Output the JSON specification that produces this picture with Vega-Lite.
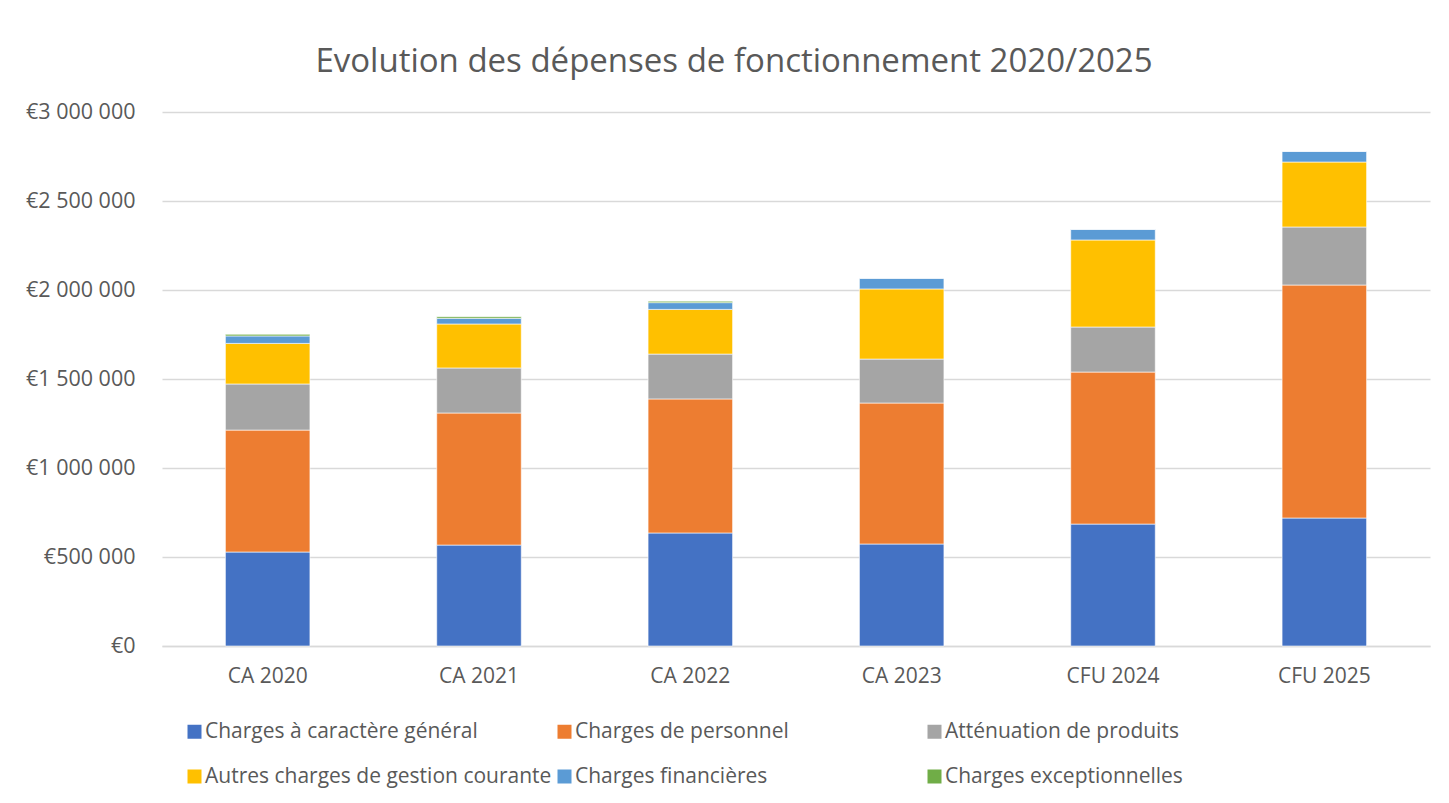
{
  "$schema": "https://vega.github.io/schema/vega-lite/v6.json",
  "width": 1268,
  "height": 534,
  "autosize": "none",
  "padding": {"left": 162, "top": 112, "right": 19, "bottom": 157},
  "background": "white",
  "title": {
    "text": "Evolution des dépenses de fonctionnement 2020/2025",
    "font": "Open Sans",
    "fontSize": 33,
    "fontWeight": "normal",
    "color": "#595959",
    "anchor": "middle",
    "dx": -62,
    "offset": 22
  },
  "data": {
    "values": [
      {"annee": "CA 2020", "poste": "Charges à caractère général", "rang": 1, "montant": 528000},
      {"annee": "CA 2020", "poste": "Charges de personnel", "rang": 2, "montant": 685000},
      {"annee": "CA 2020", "poste": "Atténuation de produits", "rang": 3, "montant": 259000},
      {"annee": "CA 2020", "poste": "Autres charges de gestion courante", "rang": 4, "montant": 228000},
      {"annee": "CA 2020", "poste": "Charges financières", "rang": 5, "montant": 42000},
      {"annee": "CA 2020", "poste": "Charges exceptionnelles", "rang": 6, "montant": 9000},
      {"annee": "CA 2021", "poste": "Charges à caractère général", "rang": 1, "montant": 567000},
      {"annee": "CA 2021", "poste": "Charges de personnel", "rang": 2, "montant": 742000},
      {"annee": "CA 2021", "poste": "Atténuation de produits", "rang": 3, "montant": 253000},
      {"annee": "CA 2021", "poste": "Autres charges de gestion courante", "rang": 4, "montant": 247000},
      {"annee": "CA 2021", "poste": "Charges financières", "rang": 5, "montant": 32000},
      {"annee": "CA 2021", "poste": "Charges exceptionnelles", "rang": 6, "montant": 9000},
      {"annee": "CA 2022", "poste": "Charges à caractère général", "rang": 1, "montant": 635000},
      {"annee": "CA 2022", "poste": "Charges de personnel", "rang": 2, "montant": 753000},
      {"annee": "CA 2022", "poste": "Atténuation de produits", "rang": 3, "montant": 252000},
      {"annee": "CA 2022", "poste": "Autres charges de gestion courante", "rang": 4, "montant": 251000},
      {"annee": "CA 2022", "poste": "Charges financières", "rang": 5, "montant": 38000},
      {"annee": "CA 2022", "poste": "Charges exceptionnelles", "rang": 6, "montant": 8000},
      {"annee": "CA 2023", "poste": "Charges à caractère général", "rang": 1, "montant": 573000},
      {"annee": "CA 2023", "poste": "Charges de personnel", "rang": 2, "montant": 792000},
      {"annee": "CA 2023", "poste": "Atténuation de produits", "rang": 3, "montant": 247000},
      {"annee": "CA 2023", "poste": "Autres charges de gestion courante", "rang": 4, "montant": 394000},
      {"annee": "CA 2023", "poste": "Charges financières", "rang": 5, "montant": 60000},
      {"annee": "CA 2023", "poste": "Charges exceptionnelles", "rang": 6, "montant": 0},
      {"annee": "CFU 2024", "poste": "Charges à caractère général", "rang": 1, "montant": 685000},
      {"annee": "CFU 2024", "poste": "Charges de personnel", "rang": 2, "montant": 854000},
      {"annee": "CFU 2024", "poste": "Atténuation de produits", "rang": 3, "montant": 253000},
      {"annee": "CFU 2024", "poste": "Autres charges de gestion courante", "rang": 4, "montant": 489000},
      {"annee": "CFU 2024", "poste": "Charges financières", "rang": 5, "montant": 60000},
      {"annee": "CFU 2024", "poste": "Charges exceptionnelles", "rang": 6, "montant": 0},
      {"annee": "CFU 2025", "poste": "Charges à caractère général", "rang": 1, "montant": 719000},
      {"annee": "CFU 2025", "poste": "Charges de personnel", "rang": 2, "montant": 1309000},
      {"annee": "CFU 2025", "poste": "Atténuation de produits", "rang": 3, "montant": 326000},
      {"annee": "CFU 2025", "poste": "Autres charges de gestion courante", "rang": 4, "montant": 365000},
      {"annee": "CFU 2025", "poste": "Charges financières", "rang": 5, "montant": 60000},
      {"annee": "CFU 2025", "poste": "Charges exceptionnelles", "rang": 6, "montant": 0}
    ]
  },
  "mark": {"type": "bar", "stroke": "white", "strokeWidth": 0.6},
  "encoding": {
    "x": {
      "field": "annee",
      "type": "nominal",
      "sort": null,
      "scale": {"paddingInner": 0.6, "paddingOuter": 0.3},
      "axis": {
        "title": null,
        "labelAngle": 0,
        "labelFont": "Open Sans",
        "labelFontSize": 21,
        "labelColor": "#595959",
        "labelPadding": 19,
        "ticks": false,
        "domainColor": "#d9d9d9",
        "domainWidth": 1.5
      }
    },
    "y": {
      "field": "montant",
      "type": "quantitative",
      "stack": "zero",
      "scale": {"domain": [0, 3000000], "nice": false},
      "axis": {
        "title": null,
        "values": [0, 500000, 1000000, 1500000, 2000000, 2500000, 3000000],
        "labelExpr": "'€' + replace(format(datum.value, ',.0f'), regexp(',', 'g'), ' ')",
        "labelFont": "Open Sans",
        "labelFontSize": 21.5,
        "labelColor": "#595959",
        "labelPadding": 27,
        "ticks": false,
        "domain": false,
        "gridColor": "#d9d9d9",
        "gridWidth": 1.5
      }
    },
    "order": {"field": "rang", "sort": "ascending"},
    "color": {
      "field": "poste",
      "type": "nominal",
      "scale": {
        "domain": ["Charges à caractère général", "Autres charges de gestion courante", "Charges de personnel", "Charges financières", "Atténuation de produits", "Charges exceptionnelles"],
        "range": ["#4472C4", "#FFC000", "#ED7D31", "#5B9BD5", "#A5A5A5", "#70AD47"]
      },
      "legend": {
        "title": null,
        "orient": "none",
        "legendX": 22,
        "legendY": 609,
        "columns": 3,
        "gridAlign": "all",
        "columnPadding": 2,
        "rowPadding": 23,
        "symbolType": "square",
        "symbolSize": 196,
        "symbolStrokeWidth": 0,
        "symbolOffset": 0,
        "labelOffset": 0,
        "labelFont": "Open Sans",
        "labelFontSize": 21,
        "labelColor": "#595959",
        "labelLimit": 500
      }
    }
  },
  "config": {"view": {"stroke": null}}
}
